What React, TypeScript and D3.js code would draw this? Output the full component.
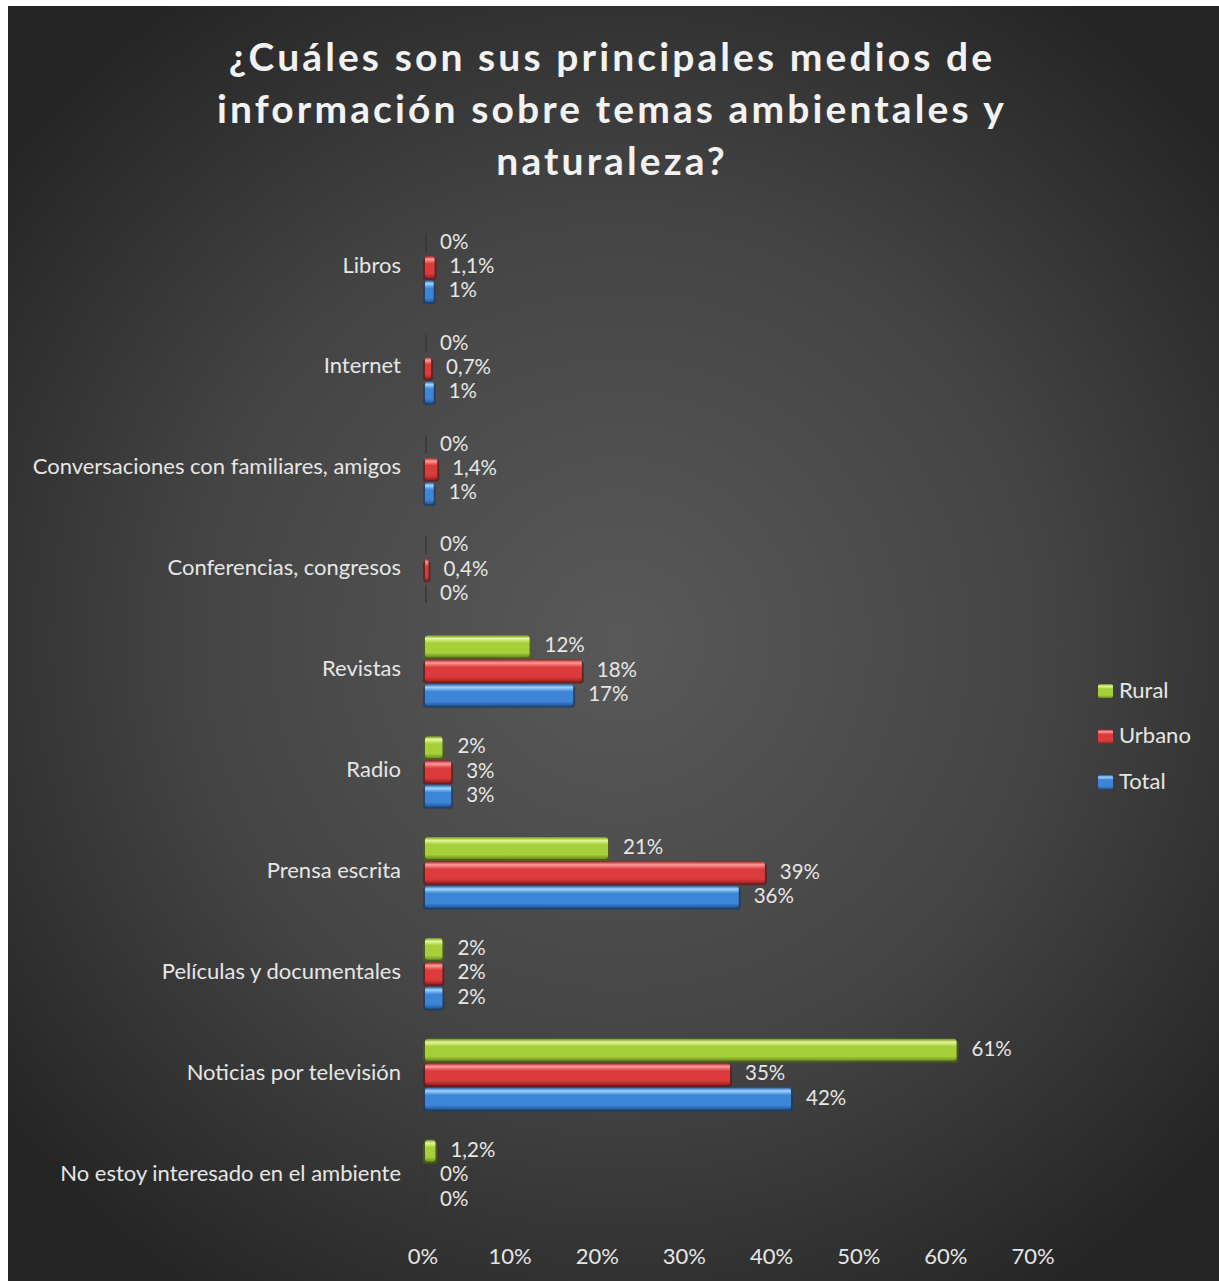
import React from "react";
import * as d3 from "d3";

const categories = [
  "Libros",
  "Internet",
  "Conversaciones con familiares, amigos",
  "Conferencias, congresos",
  "Revistas",
  "Radio",
  "Prensa escrita",
  "Películas y documentales",
  "Noticias por televisión",
  "No estoy interesado en el ambiente",
];
const seriesNames = ["Rural", "Urbano", "Total"];
const rural = [0, 0, 0, 0, 12, 2, 21, 2, 61, 1.2];
const urbano = [1.1, 0.7, 1.4, 0.4, 18, 3, 39, 2, 35, 0];
const total = [1, 1, 1, 0, 17, 3, 36, 2, 42, 0];
const xTicks = [0, 10, 20, 30, 40, 50, 60, 70];
const titleLines = [
  "¿Cuáles son sus principales medios de",
  "información sobre temas ambientales y",
  "naturaleza?",
];

const W = 1219;
const H = 1281;
const FONT = "Lato, 'Open Sans', sans-serif";
const FS = 22;
const FS_LABEL = 20.5;

const palettes = [
  { hi: "#e4f79a", mid: "#a6cf3a", lo: "#6f8f1c", dark: "#4d6412" },
  { hi: "#ff9a9a", mid: "#db3b3b", lo: "#a52020", dark: "#6e1414" },
  { hi: "#9fd4ff", mid: "#3d85d6", lo: "#1f5aa3", dark: "#163e70" },
];

const fmt = (v: number) =>
  (Number.isInteger(v) ? String(v) : v.toFixed(1).replace(".", ",")) + "%";

export default function App() {
  const x = d3.scaleLinear().domain([0, 70]).range([425, 1035]);
  const y = d3
    .scaleBand<string>()
    .domain(categories)
    .range([216.5, 1225.5])
    .paddingInner(0.3)
    .paddingOuter(0.15);
  const inner = d3
    .scaleBand<string>()
    .domain(seriesNames)
    .range([0, y.bandwidth()])
    .paddingInner(0.1);
  const data = [rural, urbano, total];

  return (
    <svg
      width={W}
      height={H}
      style={{ position: "absolute", left: 0, top: 0 }}
      fontFamily={FONT}
    >
      <defs>
        <radialGradient
          id="bg"
          gradientUnits="userSpaceOnUse"
          cx={620}
          cy={640}
          r={780}
        >
          <stop offset="0" stopColor="#595959" />
          <stop offset="0.55" stopColor="#444444" />
          <stop offset="1" stopColor="#252525" />
        </radialGradient>
        {palettes.map((p, i) => (
          <linearGradient key={i} id={`bar${i}`} x1="0" y1="0" x2="0" y2="1">
            <stop offset="0" stopColor={p.lo} />
            <stop offset="0.15" stopColor={p.hi} />
            <stop offset="0.35" stopColor={p.mid} />
            <stop offset="0.8" stopColor={p.mid} />
            <stop offset="1" stopColor={p.lo} />
          </linearGradient>
        ))}
      </defs>
      <rect x={0} y={0} width={W} height={H} fill="#ffffff" />
      <rect x={8} y={6} width={W - 8} height={H - 6} fill="url(#bg)" />

      {titleLines.map((t, i) => (
        <text
          key={i}
          x={612}
          y={71 + i * 52}
          textAnchor="middle"
          fill="#f2f2f2"
          fontSize={39}
          fontWeight={700}
          letterSpacing={3.1}
        >
          {t}
        </text>
      ))}

      {categories.map((c) => (
        <text
          key={c}
          x={401}
          y={(y(c) as number) + y.bandwidth() / 2}
          textAnchor="end"
          dominantBaseline="middle"
          fill="#e6e6e6"
          fontSize={FS}
        >
          {c}
        </text>
      ))}

      {categories.map((c, ci) => (
        <g key={c} transform={`translate(0,${y(c)})`}>
          {seriesNames.map((s, si) => {
            const v = data[si][ci];
            const by = inner(s) as number;
            const bh = inner.bandwidth();
            const w = x(v) - x(0);
            return (
              <g key={s}>
                {v > 0 && (
                  <>
                    <rect
                      x={x(0) - 2}
                      y={by + 2}
                      width={w + 4}
                      height={bh}
                      rx={3}
                      fill={palettes[si].dark}
                      opacity={0.7}
                    />
                    <rect
                      x={x(0)}
                      y={by}
                      width={w}
                      height={bh}
                      rx={3}
                      fill={`url(#bar${si})`}
                    />
                  </>
                )}
                {v === 0 && (
                  <rect
                    x={x(0)}
                    y={by + 2}
                    width={2}
                    height={bh - 4}
                    fill="#30303a"
                    opacity={0.6}
                  />
                )}
                <text
                  x={x(v) + 15}
                  y={by + bh / 2 + 1}
                  dominantBaseline="middle"
                  fill="#e6e6e6"
                  fontSize={FS_LABEL}
                >
                  {fmt(v)}
                </text>
              </g>
            );
          })}
        </g>
      ))}

      {xTicks.map((t) => (
        <text
          key={t}
          x={x(t) - 2}
          y={1258}
          textAnchor="middle"
          dominantBaseline="middle"
          fill="#e6e6e6"
          fontSize={FS}
        >
          {t}%
        </text>
      ))}

      {seriesNames.map((s, i) => (
        <g key={s} transform={`translate(1098,${691 + i * 45.5})`}>
          <rect
            x={0}
            y={-7}
            width={15}
            height={14}
            rx={2}
            fill={`url(#bar${i})`}
          />
          <text
            x={21}
            y={1}
            dominantBaseline="middle"
            fill="#e6e6e6"
            fontSize={FS}
          >
            {s}
          </text>
        </g>
      ))}
    </svg>
  );
}
